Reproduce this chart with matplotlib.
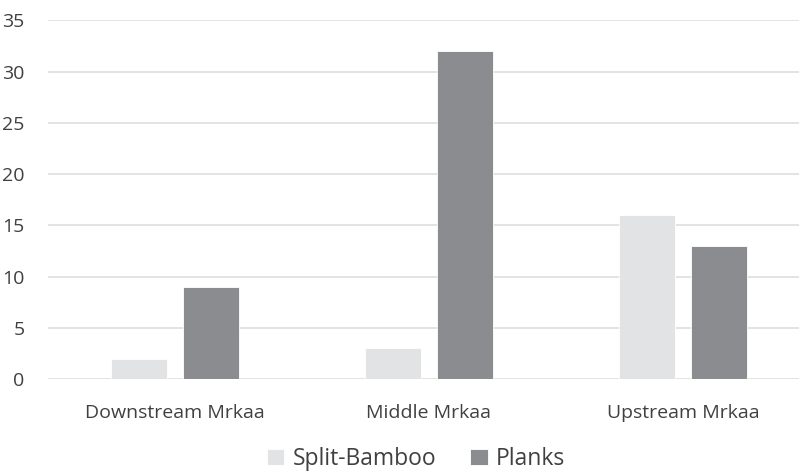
import matplotlib
matplotlib.use("Agg")
import matplotlib.pyplot as plt
import numpy as np

categories = ["Downstream Mrkaa", "Middle Mrkaa", "Upstream Mrkaa"]
split_bamboo = [2, 3, 16]
planks = [9, 32, 13]
yticks = [0, 5, 10, 15, 20, 25, 30, 35]

plt.rcParams['font.family'] = ['Open Sans', 'DejaVu Sans']

fig = plt.figure(figsize=(7.99, 4.72), dpi=100)
W, H = 799, 472
left, right = 48, 810
top, bottom = 20.3, 379
ax = fig.add_axes([left / W, 1 - bottom / H, (right - left) / W, (bottom - top) / H])

x = np.arange(len(categories))
bw = 0.224
off = 0.1417
ax.bar(x - off, split_bamboo, bw, color="#e2e3e5", edgecolor="white", linewidth=0.6, label="Split-Bamboo", zorder=3)
ax.bar(x + off, planks, bw, color="#8b8c8f", edgecolor="white", linewidth=0.6, label="Planks", zorder=3)

ax.set_xlim(-0.5, 2.5)
ax.set_ylim(0, 35)
ax.set_yticks(yticks)
ax.set_xticks(x)
ax.set_xticklabels(categories)
ax.yaxis.grid(True, color="#e0e0e0", linewidth=1.3, zorder=0)
ax.set_axisbelow(True)
for s in ax.spines.values():
    s.set_visible(False)
ax.tick_params(axis='both', length=0, colors="#404040", labelsize=14)
ax.tick_params(axis='y', pad=17)
ax.tick_params(axis='x', pad=18)

leg = fig.legend(loc='center', bbox_to_anchor=(416 / W, 1 - 459 / H), ncol=2, frameon=False,
                 fontsize=16.5, handlelength=0.75, handleheight=0.75, handletextpad=0.35,
                 columnspacing=1.5)
for t in leg.get_texts():
    t.set_color("#404040")

fig.savefig("out.png", dpi=100)
